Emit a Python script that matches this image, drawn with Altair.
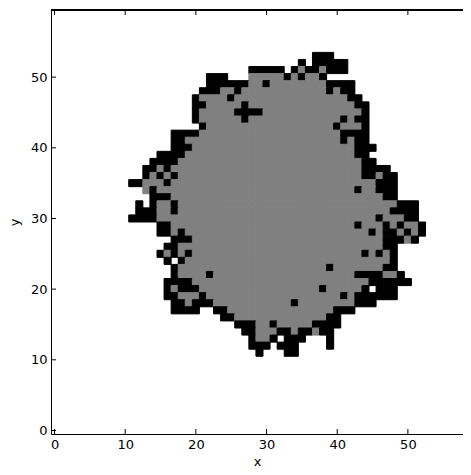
import altair as alt
import pandas as pd

# grid cells: each string starts at column COL0; '.' empty, 'g' gray, 'b' black
COL0 = 10
row_ids = list(range(53, 10, -1))
row_strings = [
    # c: 10........19 20........29 30........39 40........49 50..53
    ".........." ".........." ".......bbb" ".........." "....",  # 53
    ".........." ".........." ".....b.bbb" "bb........" "....",  # 52
    ".........." "........bb" "bbb.bgbbgb" "bb........" "....",  # 51
    ".........." "..bbb...gg" "gggbgbggb." ".........." "....",  # 50
    ".........." "..bbbbbbgg" "bggggggggb" "bbb......." "....",  # 49
    ".........." ".bbbggbggg" "gggggggggb" "gbb......." "....",  # 48
    ".........." "bggggbgggg" "gggggggggg" "ggbb......" "....",  # 47
    ".........." "bbgggggbgg" "gggggggggg" "gggbb....." "....",  # 46
    ".........." "bgggggbbbb" "gggggggggg" "ggggb....." "....",  # 45
    ".........." "bggggggbgg" "gggggggggg" "gbgbb....." "....",  # 44
    ".........." ".bgggggggg" "gggggggggg" "bgggb....." "....",  # 43
    ".......bbb" "bggggggggg" "gggggggggg" "gbbbb....." "....",  # 42
    ".......bbg" "gggggggggg" "gggggggggg" "gbgbb....." "....",  # 41
    ".......bbb" "gggggggggg" "gggggggggg" "gggbbb...." "....",  # 40
    ".....bbbbg" "gggggggggg" "gggggggggg" "gggbb....." "....",  # 39
    "....bbbbgg" "gggggggggg" "gggggggggg" "ggggbb...." "....",  # 38
    "...bbgbggg" "gggggggggg" "gggggggggg" "ggggbbbb.." "....",  # 37
    "...bgbgbgg" "gggggggggg" "gggggggggg" "ggggbbgbb." "....",  # 36
    ".bbgggbggg" "gggggggggg" "gggggggggg" "ggggggbbb." "....",  # 35
    "...gbggggg" "gggggggggg" "gggggggggg" "gggbggbbb." "....",  # 34
    "....bbbggg" "gggggggggg" "gggggggggg" "gggggggbb." "....",  # 33
    "..b.bggbgg" "gggggggggg" "gggggggggg" "gggggggggb" "bb..",  # 32
    "..bbbggbgg" "gggggggggg" "gggggggggg" "ggggggggbb" "bb..",  # 31
    ".bbbbggggg" "gggggggggg" "gggggggggg" "ggggggbggg" "bb..",  # 30
    ".....bbggg" "gggggggggg" "gggggggggg" "gggbgggbgb" "ggb.",  # 29
    ".....bbgbg" "gggggggggg" "gggggggggg" "gggggbgbbg" "bgb.",  # 28
    ".......bbb" "gggggggggg" "gggggggggg" "gggggggbbb" "gb..",  # 27
    "......bbgg" "gggggggggg" "gggggggggg" "gggggggbb." "....",  # 26
    ".....bgbgb" "gggggggggg" "gggggggggg" "ggggbgbgb." "....",  # 25
    "......b.bg" "gggggggggg" "gggggggggg" "ggggggggb." "....",  # 24
    ".......bgg" "gggggggggg" "gggggggggb" "gggggggbb." "....",  # 23
    ".......bgg" "ggbggggggg" "gggggggggg" "gggbbbbggb" "....",  # 22
    "......bbbb" "gggggggggg" "gggggggggg" "gggggbbbbb" "b...",  # 21
    "......bgbb" "bggggggggg" "ggggggggbg" "ggggb.bbb." "....",  # 20
    "......bbgg" "gbgggggggg" "gggggggggg" "gbgbbbbbb." "....",  # 19
    ".......bbg" "bbbggggggg" "ggggbggggg" "gggbbb...." "....",  # 18
    ".......bbb" "b..bbggggg" "gggggggggg" "bbb......." "....",  # 17
    ".........." "....bbgggg" "gggggggggb" "b........." "....",  # 16
    ".........." "......bbbg" "gbgggggbbb" "b........." "....",  # 15
    ".........." ".......bbg" "ggbbgbbgbb" ".........." "....",  # 14
    ".........." "........bg" "gb.bbb...b" ".........." "....",  # 13
    ".........." "........bb" "b.bbb....b" ".........." "....",  # 12
    ".........." ".........b" "...bb....." ".........." "....",  # 11
]

tick_values = [0, 10, 20, 30, 40, 50]
x_domain = [-0.5, 57.8]
y_domain = [-0.5, 59.5]

records = []
for r, s in zip(row_ids, row_strings):
    for i, ch in enumerate(s):
        if ch == "g":
            records.append({"c": COL0 + i, "r": r, "v": "gray"})
        elif ch == "b":
            records.append({"c": COL0 + i, "r": r, "v": "black"})
cells = pd.DataFrame(records)
ticks = pd.DataFrame({"t": tick_values})

W, H = 412, 424
FONT = "DejaVu Sans"

xs = alt.Scale(domain=x_domain, nice=False, zero=False)
ys = alt.Scale(domain=y_domain, nice=False, zero=False)
cscale = alt.Scale(domain=["gray", "black"], range=["#808080", "#000000"])

rect = alt.Chart(cells).transform_calculate(
    x0="datum.c - 0.5", x1="datum.c + 0.5", y0="datum.r - 0.5", y1="datum.r + 0.5"
).mark_rect(strokeWidth=1).encode(
    x=alt.X("x0:Q", scale=xs, axis=alt.Axis(values=tick_values, ticks=False, grid=False,
                                             title="x", labelPadding=4,
                                             titleBaseline="alphabetic", titleY=31,
                                             domainColor="#000000", labelFlush=False)),
    x2="x1:Q",
    y=alt.Y("y0:Q", scale=ys, axis=alt.Axis(values=tick_values, ticks=False, grid=False,
                                             title="y", labelPadding=4, titlePadding=9,
                                             domainColor="#000000", labelFlush=False)),
    y2="y1:Q",
    color=alt.Color("v:N", scale=cscale, legend=None),
    stroke=alt.Stroke("v:N", scale=cscale, legend=None),
)

xt_bottom = alt.Chart(ticks).mark_rule(color="#000000", strokeWidth=1).encode(
    x=alt.X("t:Q", scale=xs), y=alt.value(H), y2=alt.value(H - 5))
xt_top = alt.Chart(ticks).mark_rule(color="#000000", strokeWidth=1).encode(
    x=alt.X("t:Q", scale=xs), y=alt.value(0), y2=alt.value(5))
yt_left = alt.Chart(ticks).mark_rule(color="#000000", strokeWidth=1).encode(
    y=alt.Y("t:Q", scale=ys), x=alt.value(0), x2=alt.value(5))
top_line = alt.Chart(ticks).mark_rule(color="#000000", strokeWidth=1).encode(
    x=alt.value(0), x2=alt.value(W), y=alt.value(0))

chart = alt.layer(rect, xt_bottom, xt_top, yt_left, top_line).properties(
    width=W, height=H,
    autosize=alt.AutoSizeParams(type="none"),
    padding={"left": 43, "top": 2, "right": 0, "bottom": 33},
).configure_view(stroke=None).configure_axis(
    labelFont=FONT, titleFont=FONT, labelFontSize=13, titleFontSize=13,
    labelColor="#000000", titleColor="#000000", titleFontWeight="normal",
    domainWidth=1,
)

chart.save("out.html", embed_options={"renderer": "svg", "actions": False})
